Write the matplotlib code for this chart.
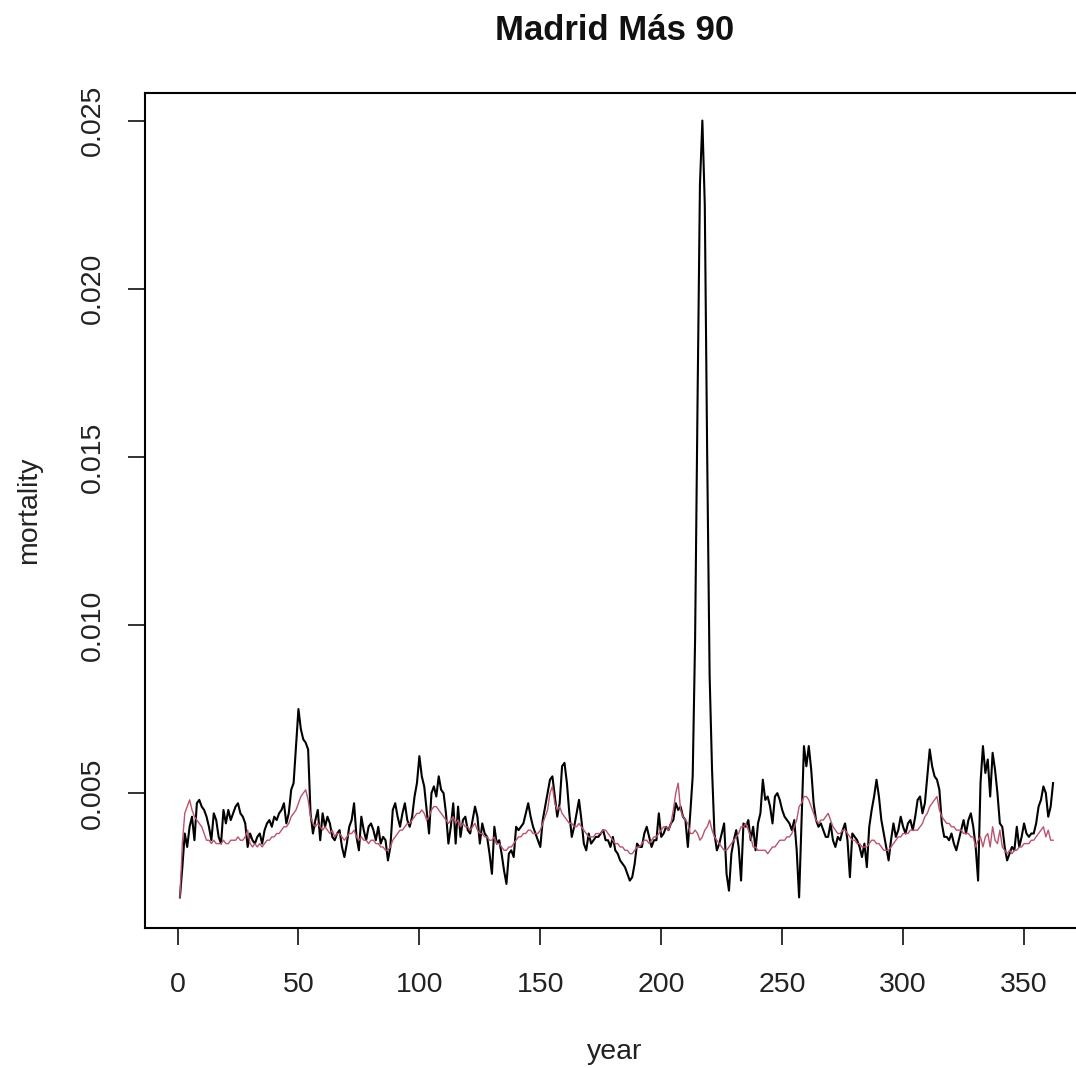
import numpy as np
import matplotlib
matplotlib.use("Agg")
import matplotlib.pyplot as plt

plt.rcParams['font.family'] = ['Liberation Sans', 'DejaVu Sans']

# observed mortality (black)
observed = [
    .0019, .0028, .0038, .0034, .0040, .0043, .0036, .0047, .0048, .0046,
    .0045, .0043, .0040, .0036, .0044, .0042, .0037, .0035, .0045, .0041,
    .0045, .0042, .0044, .0046, .0047, .0044, .0043, .0041, .0034, .0038,
    .0036, .0035, .0037, .0038, .0035, .0039, .0041, .0042, .0040, .0043,
    .0042, .0044, .0045, .0047, .0041, .0044, .0051, .0053, .0064, .0075,
    .0069, .0066, .0065, .0063, .0044, .0038, .0042, .0045, .0036, .0044,
    .0040, .0043, .0041, .0037, .0036, .0038, .0039, .0034, .0031, .0035,
    .0040, .0042, .0047, .0037, .0033, .0043, .0039, .0036, .0040, .0041,
    .0039, .0036, .0040, .0035, .0037, .0036, .0030, .0034, .0045, .0047,
    .0043, .0040, .0044, .0047, .0042, .0040, .0043, .0049, .0053, .0061,
    .0055, .0052, .0045, .0038, .0050, .0052, .0049, .0055, .0051, .0050,
    .0044, .0035, .0040, .0047, .0035, .0046, .0037, .0042, .0043, .0039,
    .0038, .0042, .0046, .0043, .0035, .0041, .0038, .0037, .0032, .0026,
    .0040, .0035, .0036, .0032, .0027, .0023, .0032, .0033, .0031, .0040,
    .0039, .0040, .0041, .0044, .0047, .0043, .0040, .0038, .0036, .0034,
    .0042, .0046, .0050, .0054, .0055, .0049, .0043, .0047, .0058, .0059,
    .0053, .0044, .0037, .0040, .0044, .0048, .0042, .0035, .0033, .0038,
    .0035, .0036, .0037, .0037, .0038, .0039, .0036, .0036, .0034, .0037,
    .0033, .0032, .0030, .0029, .0028, .0026, .0024, .0025, .0029, .0035,
    .0034, .0034, .0038, .0040, .0037, .0034, .0036, .0036, .0044, .0037,
    .0038, .0040, .0039, .0041, .0042, .0047, .0045, .0046, .0043, .0042,
    .0034, .0044, .0055, .0096, .0166, .0231, .0250, .0225, .0150, .0085,
    .0057, .0038, .0033, .0035, .0038, .0041, .0026, .0021, .0032, .0036,
    .0039, .0034, .0024, .0041, .0040, .0042, .0036, .0040, .0033, .0041,
    .0044, .0054, .0048, .0049, .0046, .0041, .0049, .0050, .0048, .0045,
    .0043, .0042, .0041, .0039, .0042, .0033, .0019, .0041, .0064, .0058,
    .0064, .0057, .0047, .0042, .0040, .0041, .0039, .0037, .0037, .0041,
    .0036, .0034, .0037, .0036, .0039, .0041, .0036, .0025, .0038, .0037,
    .0036, .0034, .0031, .0035, .0028, .0040, .0045, .0049, .0054, .0049,
    .0042, .0038, .0034, .0030, .0036, .0041, .0037, .0039, .0043, .0040,
    .0038, .0041, .0042, .0039, .0043, .0048, .0049, .0044, .0047, .0055,
    .0063, .0058, .0055, .0054, .0051, .0041, .0037, .0037, .0036, .0038,
    .0035, .0033, .0036, .0039, .0042, .0038, .0042, .0044, .0040, .0034,
    .0024, .0053, .0064, .0056, .0060, .0049, .0062, .0057, .0050, .0041,
    .0040, .0034, .0030, .0032, .0034, .0033, .0040, .0034, .0037, .0041,
    .0038, .0037, .0038, .0038, .0041, .0046, .0048, .0052, .0050, .0043,
    .0046, .0053,
]

# fitted mortality (pink)
fitted = [
    .0019, .0035, .0044, .0046, .0048, .0045, .0043, .0042, .0041, .0040,
    .0038, .0036, .0036, .0035, .0036, .0035, .0035, .0035, .0036, .0035,
    .0035, .0036, .0036, .0036, .0037, .0036, .0036, .0037, .0039, .0035,
    .0034, .0035, .0034, .0035, .0034, .0035, .0036, .0036, .0037, .0037,
    .0038, .0038, .0039, .0040, .0040, .0041, .0043, .0044, .0045, .0047,
    .0049, .0050, .0051, .0048, .0043, .0041, .0040, .0041, .0040, .0039,
    .0040, .0039, .0038, .0039, .0037, .0038, .0038, .0037, .0036, .0037,
    .0038, .0038, .0039, .0037, .0036, .0037, .0036, .0036, .0035, .0036,
    .0036, .0035, .0035, .0034, .0034, .0033, .0033, .0034, .0036, .0037,
    .0038, .0039, .0039, .0040, .0041, .0041, .0042, .0043, .0044, .0044,
    .0045, .0044, .0042, .0043, .0045, .0046, .0046, .0045, .0044, .0043,
    .0042, .0041, .0042, .0043, .0041, .0042, .0040, .0041, .0040, .0040,
    .0039, .0040, .0041, .0039, .0038, .0038, .0037, .0037, .0036, .0036,
    .0037, .0035, .0035, .0034, .0033, .0033, .0034, .0034, .0035, .0036,
    .0037, .0037, .0038, .0038, .0039, .0039, .0038, .0038, .0038, .0039,
    .0041, .0043, .0045, .0050, .0052, .0047, .0045, .0046, .0044, .0043,
    .0042, .0041, .0041, .0040, .0040, .0041, .0040, .0039, .0038, .0037,
    .0037, .0037, .0038, .0038, .0038, .0039, .0039, .0038, .0037, .0036,
    .0035, .0035, .0034, .0034, .0033, .0033, .0032, .0032, .0033, .0034,
    .0034, .0035, .0036, .0036, .0035, .0036, .0037, .0037, .0038, .0039,
    .0040, .0040, .0039, .0041, .0045, .0050, .0053, .0045, .0043, .0042,
    .0041, .0038, .0038, .0039, .0038, .0036, .0037, .0039, .0040, .0042,
    .0039, .0037, .0036, .0035, .0034, .0033, .0033, .0034, .0035, .0036,
    .0037, .0038, .0040, .0040, .0041, .0039, .0037, .0034, .0034, .0033,
    .0033, .0033, .0033, .0032, .0033, .0034, .0034, .0035, .0036, .0036,
    .0036, .0037, .0037, .0038, .0040, .0042, .0046, .0047, .0049, .0049,
    .0048, .0046, .0044, .0042, .0041, .0042, .0042, .0043, .0044, .0042,
    .0040, .0039, .0038, .0038, .0039, .0039, .0038, .0037, .0036, .0036,
    .0035, .0035, .0034, .0034, .0034, .0035, .0036, .0036, .0035, .0035,
    .0034, .0033, .0033, .0033, .0034, .0035, .0036, .0037, .0037, .0038,
    .0038, .0038, .0039, .0039, .0039, .0039, .0040, .0041, .0043, .0044,
    .0046, .0047, .0048, .0049, .0045, .0043, .0042, .0041, .0041, .0040,
    .0040, .0039, .0039, .0039, .0038, .0038, .0038, .0037, .0037, .0034,
    .0036, .0037, .0034, .0037, .0038, .0034, .0040, .0036, .0035, .0039,
    .0034, .0033, .0032, .0033, .0032, .0033, .0033, .0034, .0034, .0035,
    .0035, .0035, .0036, .0036, .0037, .0038, .0039, .0040, .0037, .0039,
    .0036, .0036,
]

x_ticks = [0, 50, 100, 150, 200, 250, 300, 350]
y_ticks = [0.005, 0.010, 0.015, 0.020, 0.025]
y_tick_labels = ["0.005", "0.010", "0.015", "0.020", "0.025"]

W, H = 1076, 1068
fig = plt.figure(figsize=(W / 100, H / 100), dpi=100)

# axes box runs off the right edge of the picture, like the reference
left, right, top, bottom = 145, 1088, 93, 928
ax = fig.add_axes([left / W, 1 - bottom / H, (right - left) / W, (bottom - top) / H])

years = np.arange(1, len(observed) + 1)
ax.plot(years, observed, color='black', linewidth=1.5)
ax.plot(years, fitted, color='#B9546C', linewidth=1.0)

ax.set_xlim(-13.44, 376.44)
ax.set_ylim(0.00099, 0.02582)

for side in ax.spines.values():
    side.set_linewidth(1.5)

ax.set_xticks(x_ticks)
ax.set_xticklabels([str(t) for t in x_ticks])
ax.set_yticks(y_ticks)
ax.set_yticklabels(y_tick_labels, rotation=90, va='center')
ax.tick_params(axis='both', direction='out', length=12.5, width=1.3,
               labelsize=20.5, colors='#222222')
ax.tick_params(axis='x', pad=19)
ax.tick_params(axis='y', pad=16)

fig.text(615 / W, 1 - 30 / H, "Madrid Más 90", ha='center', va='center',
         fontsize=25, fontweight='bold', color='#111111')
fig.text(615 / W, 1 - 1052 / H, "year", ha='center', va='center',
         fontsize=20.5, color='#222222')
fig.text(29 / W, 1 - 510 / H, "mortality", ha='center', va='center',
         rotation=90, fontsize=20.5, color='#222222')

fig.savefig("out.png", dpi=100)
